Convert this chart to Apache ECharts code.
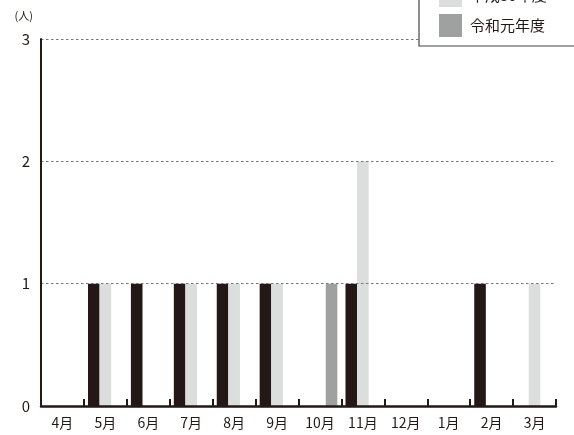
<!DOCTYPE html>
<html>
<head>
<meta charset="utf-8">
<script src="https://cdn.jsdelivr.net/npm/echarts@6/dist/echarts.min.js"></script>
<style>
html,body{margin:0;padding:0;background:#fff;}
#chart{width:574px;height:435px;}
</style>
</head>
<body>
<div id="chart"></div>
<script>
var categories = ['4月','5月','6月','7月','8月','9月','10月','11月','12月','1月','2月','3月'];
var seriesNames = ['平成29年度','平成30年度','令和元年度'];
var h29 = [0,1,1,1,1,1,0,1,0,0,1,0];
var h30 = [0,1,0,1,1,1,0,2,0,0,0,1];
var r01 = [0,0,0,0,0,0,1,0,0,0,0,0];
var yTicks = [0,1,2,3];

var FONT = '"Noto Sans CJK JP", "Noto Sans", sans-serif';
var INK = '#231815';

var chart = echarts.init(document.getElementById('chart'), null, {renderer:'canvas'});
chart.setOption({
  animation: false,
  backgroundColor: '#fff',
  textStyle: {fontFamily: FONT, color: INK},
  legend: {
    orient: 'vertical',
    left: 419,
    top: -56,
    icon: 'rect',
    itemWidth: 23,
    itemHeight: 23,
    itemGap: 7,
    itemStyle: {borderWidth: 0},
    padding: [10, 60, 9, 20],
    borderColor: '#444',
    borderWidth: 1.2,
    backgroundColor: '#fff',
    textStyle: {fontFamily: FONT, fontSize: 15, color: INK, padding: [0,0,0,3]},
    data: seriesNames,
    z: 10
  },
  grid: {left: 41, right: 18, top: 39, bottom: 29, containLabel: false},
  xAxis: {
    type: 'category',
    data: categories,
    boundaryGap: true,
    axisLine: {lineStyle: {color: INK, width: 2.5}},
    axisTick: {show: true, inside: true, length: 7, alignWithLabel: false, lineStyle: {color: INK, width: 2}},
    axisLabel: {fontFamily: FONT, fontSize: 14, color: INK, margin: 10, interval: 0},
    z: 5
  },
  yAxis: {
    type: 'value',
    min: 0,
    max: 3,
    interval: 1,
    name: '(人)',
    nameLocation: 'end',
    nameGap: 18,
    nameTextStyle: {fontFamily: FONT, fontSize: 11, color: INK, align: 'right', padding: [0, 8, 0, 0]},
    axisLine: {show: true, lineStyle: {color: INK, width: 2}},
    axisTick: {show: false},
    axisLabel: {
      fontFamily: FONT, fontSize: 15, color: INK, margin: 11, padding: [6,0,0,0],
      formatter: function(v){ return yTicks.indexOf(v) >= 0 ? String(v) : ''; }
    },
    splitLine: {show: true, lineStyle: {color: '#777', width: 1, type: [2.5, 2.5]}},
    z: 4
  },
  series: [
    {name: seriesNames[0], type: 'bar', data: h29, barGap: '0%', barCategoryGap: '19%', itemStyle: {color: INK}},
    {name: seriesNames[1], type: 'bar', data: h30, barGap: '0%', barCategoryGap: '19%', itemStyle: {color: '#dcdddd'}},
    {name: seriesNames[2], type: 'bar', data: r01, barGap: '0%', barCategoryGap: '19%', itemStyle: {color: '#9fa0a0'}}
  ]
});
</script>
</body>
</html>
